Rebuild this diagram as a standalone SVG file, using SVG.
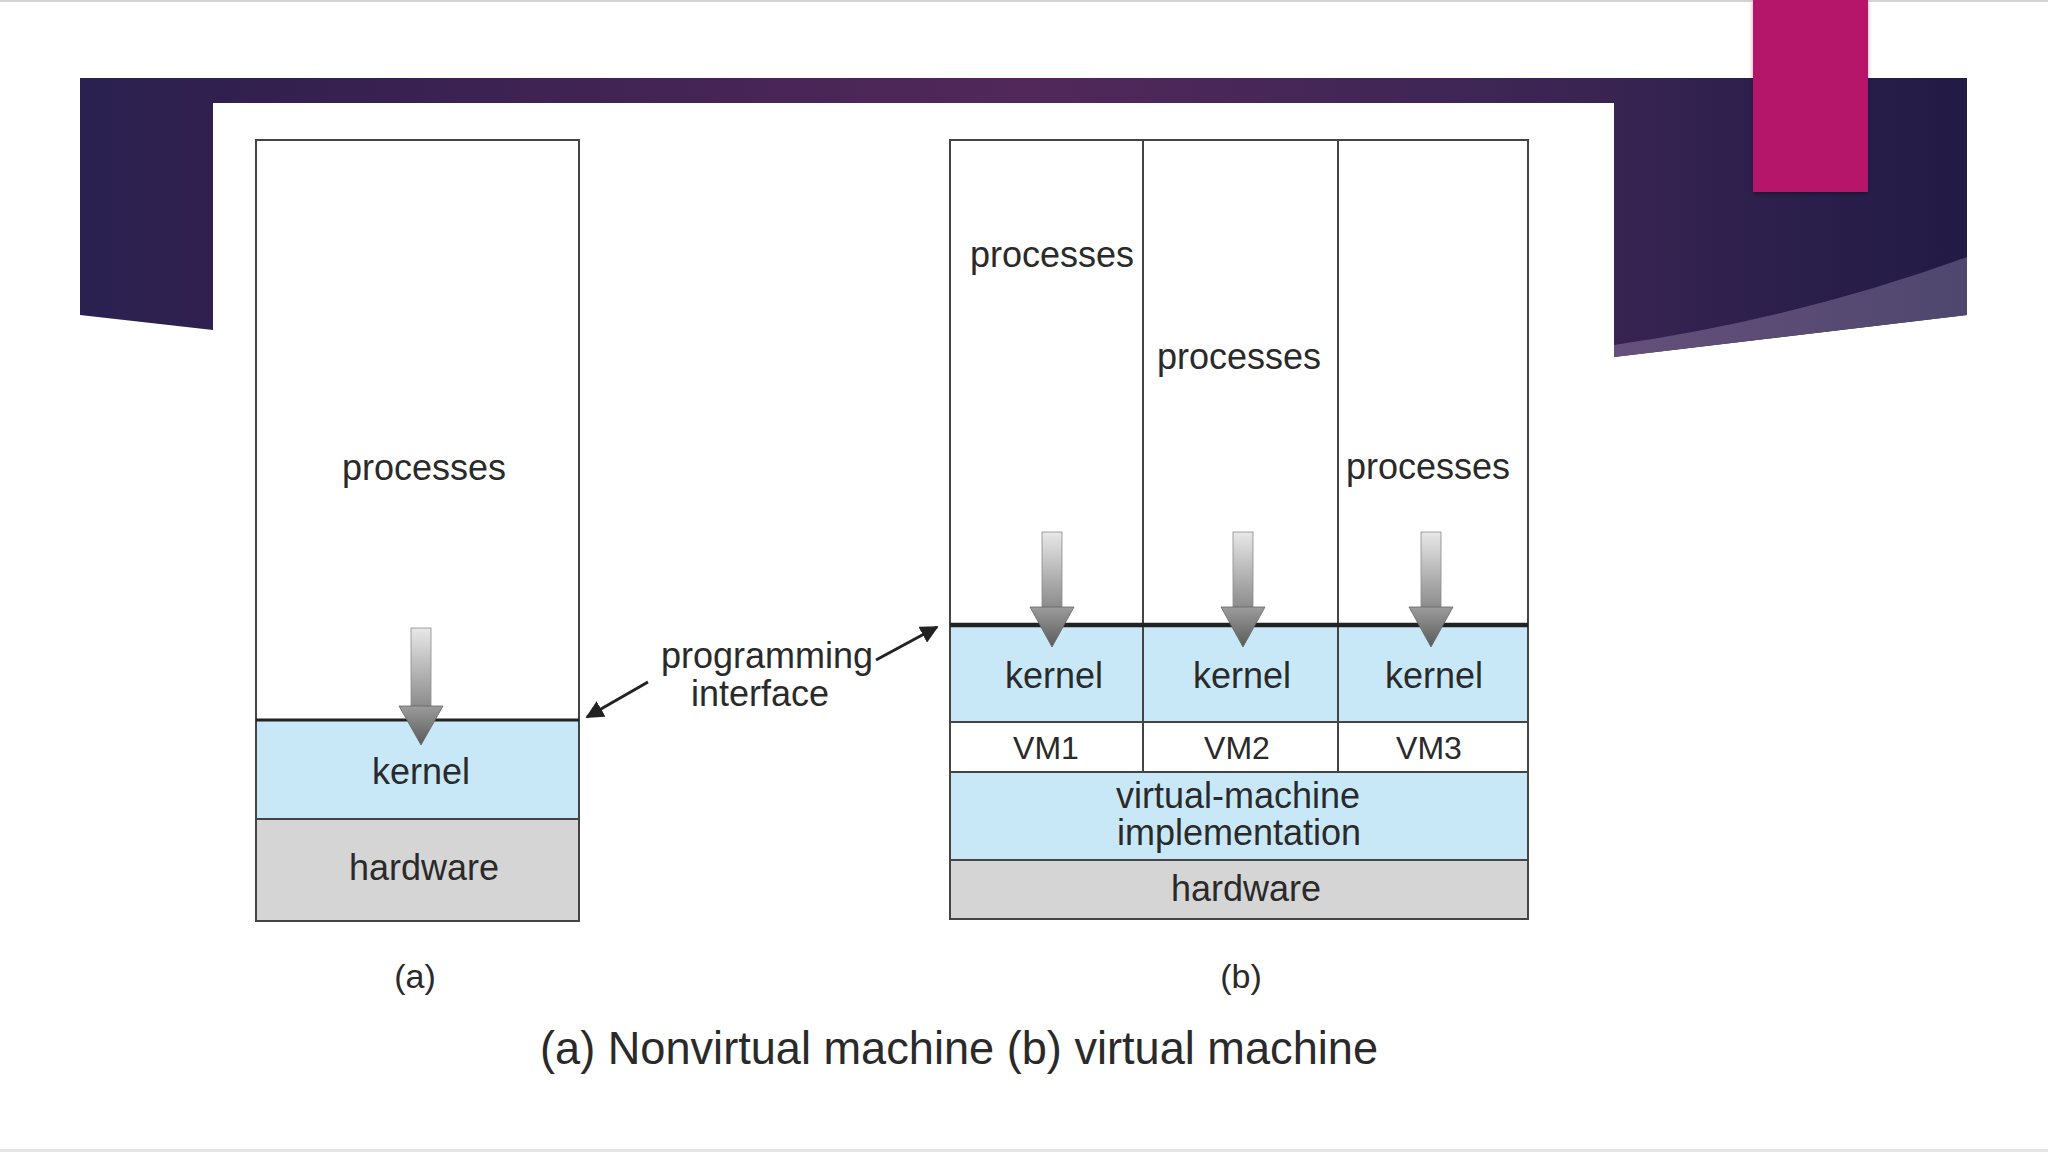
<svg xmlns="http://www.w3.org/2000/svg" width="2048" height="1152" viewBox="0 0 2048 1152">
  <defs>
    <linearGradient id="band" gradientUnits="userSpaceOnUse" x1="80" y1="0" x2="1967" y2="0">
      <stop offset="0" stop-color="#2a2150"/>
      <stop offset="0.1" stop-color="#33204f"/>
      <stop offset="0.5" stop-color="#52285a"/>
      <stop offset="0.72" stop-color="#3f2656"/>
      <stop offset="0.8" stop-color="#3a2452"/>
      <stop offset="0.9" stop-color="#2c1f4c"/>
      <stop offset="1" stop-color="#221b45"/>
    </linearGradient>
    <linearGradient id="wedge" gradientUnits="userSpaceOnUse" x1="1614" y1="0" x2="1967" y2="0">
      <stop offset="0" stop-color="#65507a"/>
      <stop offset="1" stop-color="#4f476e"/>
    </linearGradient>
    <linearGradient id="shaft" x1="0" y1="0" x2="0" y2="1">
      <stop offset="0" stop-color="#e8e8e8"/>
      <stop offset="1" stop-color="#8c8c8c"/>
    </linearGradient>
    <linearGradient id="head" x1="0" y1="0" x2="0" y2="1">
      <stop offset="0" stop-color="#9c9c9c"/>
      <stop offset="1" stop-color="#5a5a5a"/>
    </linearGradient>
    <filter id="shadow" x="-20%" y="-20%" width="140%" height="140%">
      <feDropShadow dx="0" dy="2" stdDeviation="2" flood-color="#000" flood-opacity="0.35"/>
    </filter>
    <marker id="tip" viewBox="0 0 10 10" refX="9" refY="5" markerWidth="6" markerHeight="6" orient="auto">
      <path d="M0,0 L10,5 L0,10 z" fill="#222"/>
    </marker>
    <style>
      .lbl { font-family: "Liberation Sans", Arial, sans-serif; fill: #2a2a2a; text-anchor: middle; }
      .f36 { font-size: 36px; }
      .f32 { font-size: 32px; }
      .box { stroke: #444; stroke-width: 2; }
      .proc { fill: #ffffff; }
      .kern { fill: #c8e8f7; }
      .hw { fill: #d5d5d5; }
      .vm { fill: #ffffff; }
      .shaft { fill: url(#shaft); stroke: #8a8a8a; stroke-width: 0.8; }
      .head { fill: url(#head); stroke: #666; stroke-width: 0.8; }
      .conn { stroke: #222; stroke-width: 3; fill: none; marker-end: url(#tip); }
    </style>
  </defs>

  <!-- slide background -->
  <rect x="0" y="0" width="2048" height="1152" fill="#ffffff"/>
  <rect x="0" y="0" width="2048" height="2" fill="#d4d4d4"/>
  <rect x="0" y="1149" width="2048" height="3" fill="#e6e6e6"/>

  <g id="banner">
    <path d="M80,78 L1967,78 L1967,315 L1614,357 L1614,103 L213,103 L213,330 L80,315 Z" fill="url(#band)"/>
    <path d="M1967,257 Q1800,318 1614,345 L1614,357 L1967,315 Z" fill="url(#wedge)"/>
    <rect x="1753" y="0" width="115" height="192" fill="#b5156a" filter="url(#shadow)"/>
  </g>

  <!-- (a) nonvirtual machine -->
  <g id="node-a-processes">
    <rect class="box proc" x="256" y="140" width="323" height="580"/>
    <text class="lbl f36" x="424" y="480">processes</text>
  </g>
  <g id="node-a-kernel">
    <rect class="box kern" x="256" y="720" width="323" height="99"/>
    <text class="lbl f36" x="421" y="784">kernel</text>
  </g>
  <g id="node-a-hardware">
    <rect class="box hw" x="256" y="819" width="323" height="102"/>
    <text class="lbl f36" x="424" y="880">hardware</text>
  </g>
  <line x1="256" y1="720" x2="579" y2="720" stroke="#222" stroke-width="3"/>
  <g id="arrow-a">
    <rect class="shaft" x="411" y="628" width="20" height="78"/>
    <polygon class="head" points="399,706 443,706 421,745"/>
  </g>
  <text id="label-a" class="lbl" font-size="34" x="415" y="988">(a)</text>

  <!-- (b) virtual machine -->
  <g id="node-b-processes1">
    <rect class="box proc" x="950" y="140" width="193" height="485"/>
    <text class="lbl f36" x="1052" y="267">processes</text>
  </g>
  <g id="node-b-processes2">
    <rect class="box proc" x="1143" y="140" width="195" height="485"/>
    <text class="lbl f36" x="1239" y="369">processes</text>
  </g>
  <g id="node-b-processes3">
    <rect class="box proc" x="1338" y="140" width="190" height="485"/>
    <text class="lbl f36" x="1428" y="479">processes</text>
  </g>
  <g id="node-b-kernel1">
    <rect class="box kern" x="950" y="625" width="193" height="97"/>
    <text class="lbl f36" x="1054" y="688">kernel</text>
  </g>
  <g id="node-b-kernel2">
    <rect class="box kern" x="1143" y="625" width="195" height="97"/>
    <text class="lbl f36" x="1242" y="688">kernel</text>
  </g>
  <g id="node-b-kernel3">
    <rect class="box kern" x="1338" y="625" width="190" height="97"/>
    <text class="lbl f36" x="1434" y="688">kernel</text>
  </g>
  <g id="node-b-vm1">
    <rect class="box vm" x="950" y="722" width="193" height="50"/>
    <text class="lbl f32" x="1046" y="759">VM1</text>
  </g>
  <g id="node-b-vm2">
    <rect class="box vm" x="1143" y="722" width="195" height="50"/>
    <text class="lbl f32" x="1237" y="759">VM2</text>
  </g>
  <g id="node-b-vm3">
    <rect class="box vm" x="1338" y="722" width="190" height="50"/>
    <text class="lbl f32" x="1429" y="759">VM3</text>
  </g>
  <g id="node-b-vmi">
    <rect class="box kern" x="950" y="772" width="578" height="88"/>
    <text class="lbl f36" x="1238" y="808">virtual-machine</text>
    <text class="lbl f36" x="1239" y="845">implementation</text>
  </g>
  <g id="node-b-hardware">
    <rect class="box hw" x="950" y="860" width="578" height="59"/>
    <text class="lbl f36" x="1246" y="901">hardware</text>
  </g>
  <line x1="950" y1="625" x2="1528" y2="625" stroke="#222" stroke-width="4.5"/>
  <g id="arrows-b">
    <rect class="shaft" x="1042" y="532" width="20" height="75"/>
    <polygon class="head" points="1030,607 1074,607 1052,647"/>
    <rect class="shaft" x="1233" y="532" width="20" height="75"/>
    <polygon class="head" points="1221,607 1265,607 1243,647"/>
    <rect class="shaft" x="1421" y="532" width="20" height="75"/>
    <polygon class="head" points="1409,607 1453,607 1431,647"/>
  </g>
  <text id="label-b" class="lbl" font-size="34" x="1241" y="988">(b)</text>

  <!-- programming interface label and connectors -->
  <g id="node-pi">
    <text class="lbl f36" x="767" y="668">programming</text>
    <text class="lbl f36" x="760" y="706">interface</text>
  </g>
  <g id="connectors">
    <line class="conn" x1="648" y1="682" x2="587" y2="717"/>
    <line class="conn" x1="876" y1="660" x2="937" y2="627"/>
  </g>

  <text id="caption" class="lbl" font-size="46" x="959" y="1064" textLength="838" lengthAdjust="spacingAndGlyphs">(a) Nonvirtual machine (b) virtual machine</text>
</svg>
